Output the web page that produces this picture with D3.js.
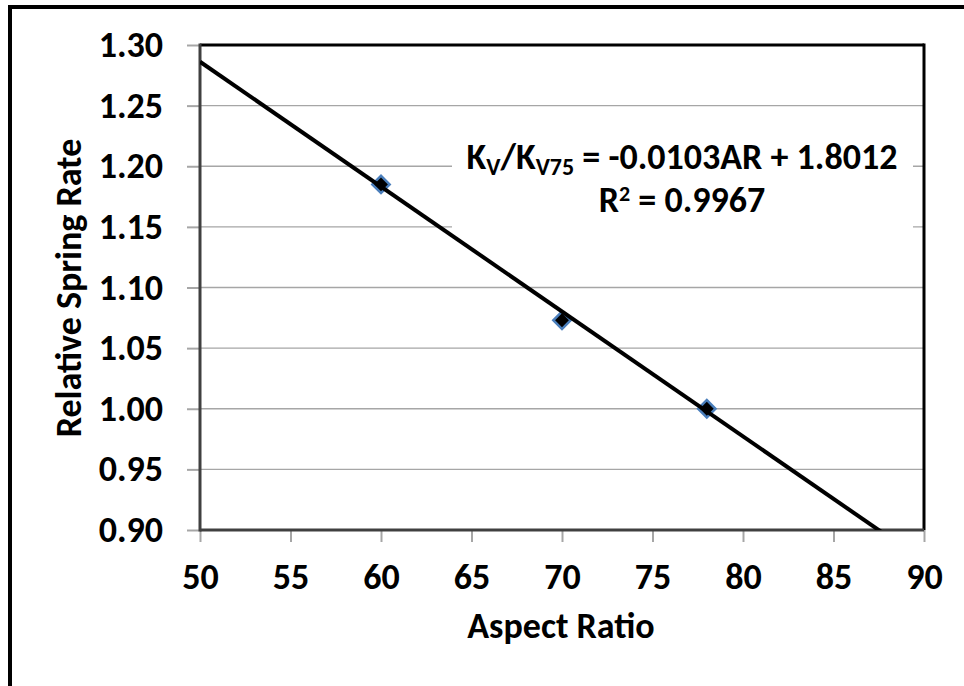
<!DOCTYPE html>
<html>
<head>
<meta charset="utf-8">
<script src="https://cdn.jsdelivr.net/npm/d3@7"></script>
<style>
  html, body { margin: 0; padding: 0; background: #fff; }
  svg { display: block; }
  text { font-family: Carlito, Calibri, Lato, "Open Sans", sans-serif; font-weight: bold; fill: #000; }
</style>
</head>
<body>
<svg id="chart" width="964" height="686"></svg>
<script>
// ---- Data ----
const aspectRatio = [60, 70, 78];
const relativeSpringRate = [1.185, 1.073, 1.000];
const trendSlope = -0.0103;
const trendIntercept = 1.8012;
const xTicks = [50, 55, 60, 65, 70, 75, 80, 85, 90];
const yTicks = [0.90, 0.95, 1.00, 1.05, 1.10, 1.15, 1.20, 1.25, 1.30];
const xTitle = "Aspect Ratio";
const yTitle = "Relative Spring Rate";
const r2Label = "0.9967";

// ---- Layout ----
const W = 964, H = 686;
const plot = { left: 200, right: 924, top: 45, bottom: 530 };

const svg = d3.select("#chart");

// outer frame (extends beyond the visible area on right/bottom)
svg.append("rect")
  .attr("x", 10).attr("y", 7)
  .attr("width", 1000).attr("height", 1000)
  .attr("fill", "none").attr("stroke", "#000").attr("stroke-width", 4);

const x = d3.scaleLinear().domain([50, 90]).range([plot.left, plot.right]);
const y = d3.scaleLinear().domain([0.90, 1.30]).range([plot.bottom, plot.top]);

// gridlines
svg.append("g")
  .selectAll("line")
  .data(yTicks)
  .join("line")
  .attr("x1", plot.left).attr("x2", plot.right)
  .attr("y1", d => y(d)).attr("y2", d => y(d))
  .attr("stroke", "#a6a6a6").attr("stroke-width", 1.3);

// y axis
const yAxis = svg.append("g")
  .attr("transform", `translate(${plot.left},0)`)
  .call(d3.axisLeft(y).tickValues(yTicks).tickFormat(d3.format(".2f")).tickSize(13).tickPadding(24));
yAxis.select(".domain").remove();
yAxis.selectAll(".tick line").attr("stroke", "#a6a6a6").attr("stroke-width", 2);
yAxis.selectAll(".tick text").style("font-size", "36px").attr("dy", "0.32em");

// x axis
const xAxis = svg.append("g")
  .attr("transform", `translate(0,${plot.bottom})`)
  .call(d3.axisBottom(x).tickValues(xTicks).tickFormat(d3.format("d")).tickSize(12).tickPadding(21));
xAxis.select(".domain").remove();
xAxis.selectAll(".tick line").attr("stroke", "#a6a6a6").attr("stroke-width", 2);
xAxis.selectAll(".tick text").style("font-size", "36px").attr("dy", "0.71em");

// plot frame: top/right black, left/bottom dark gray
svg.append("line").attr("x1", plot.left).attr("x2", plot.right).attr("y1", plot.top).attr("y2", plot.top)
  .attr("stroke", "#000").attr("stroke-width", 3);
svg.append("line").attr("x1", plot.right).attr("x2", plot.right).attr("y1", plot.top - 1.5).attr("y2", plot.bottom)
  .attr("stroke", "#000").attr("stroke-width", 3);
svg.append("line").attr("x1", plot.left).attr("x2", plot.left).attr("y1", plot.top - 1.5).attr("y2", plot.bottom + 1.5)
  .attr("stroke", "#404040").attr("stroke-width", 3);
svg.append("line").attr("x1", plot.left).attr("x2", plot.right).attr("y1", plot.bottom).attr("y2", plot.bottom)
  .attr("stroke", "#404040").attr("stroke-width", 3);

// clip
svg.append("defs").append("clipPath").attr("id", "clip")
  .append("rect").attr("x", plot.left).attr("y", plot.top)
  .attr("width", plot.right - plot.left).attr("height", plot.bottom - plot.top);

// markers
const pts = aspectRatio.map((a, i) => ({ a, v: relativeSpringRate[i] }));
svg.append("g").selectAll("path")
  .data(pts)
  .join("path")
  .attr("d", d3.symbol(d3.symbolSquare, 150)())
  .attr("transform", d => `translate(${x(d.a)},${y(d.v)}) rotate(45)`)
  .attr("fill", "#000")
  .attr("stroke", "#4a7ebb").attr("stroke-width", 2.5);

// trendline
const trendX = [50, 90];
svg.append("path")
  .datum(trendX.map(a => ({ a, v: trendSlope * a + trendIntercept })))
  .attr("clip-path", "url(#clip)")
  .attr("d", d3.line().x(d => x(d.a)).y(d => y(d.v)))
  .attr("fill", "none").attr("stroke", "#000").attr("stroke-width", 4);

// equation label with white background
const lab = svg.append("g");
lab.append("rect").attr("x", 452).attr("y", 128).attr("width", 461).attr("height", 104).attr("fill", "#fff");
const eq = lab.append("text").attr("x", 682).attr("y", 169).attr("text-anchor", "middle").style("font-size", "36px");
eq.append("tspan").text("K");
eq.append("tspan").text("V").style("font-size", "24px").attr("dy", 6);
eq.append("tspan").text("/K").attr("dy", -6);
eq.append("tspan").text("V75").style("font-size", "24px").attr("dy", 6);
eq.append("tspan").text(` = ${trendSlope}AR + ${trendIntercept}`).attr("dy", -6);
const r2 = lab.append("text").attr("x", 682).attr("y", 212).attr("text-anchor", "middle").style("font-size", "36px");
r2.append("tspan").text("R");
r2.append("tspan").text("2").style("font-size", "22px").attr("dy", -11);
r2.append("tspan").text(` = ${r2Label}`).attr("dy", 11);

// axis titles
svg.append("text").attr("x", 561).attr("y", 638).attr("text-anchor", "middle")
  .style("font-size", "36px").text(xTitle);
svg.append("text").attr("transform", `translate(81,288) rotate(-90)`).attr("text-anchor", "middle")
  .style("font-size", "36px").text(yTitle);
</script>
</body>
</html>
